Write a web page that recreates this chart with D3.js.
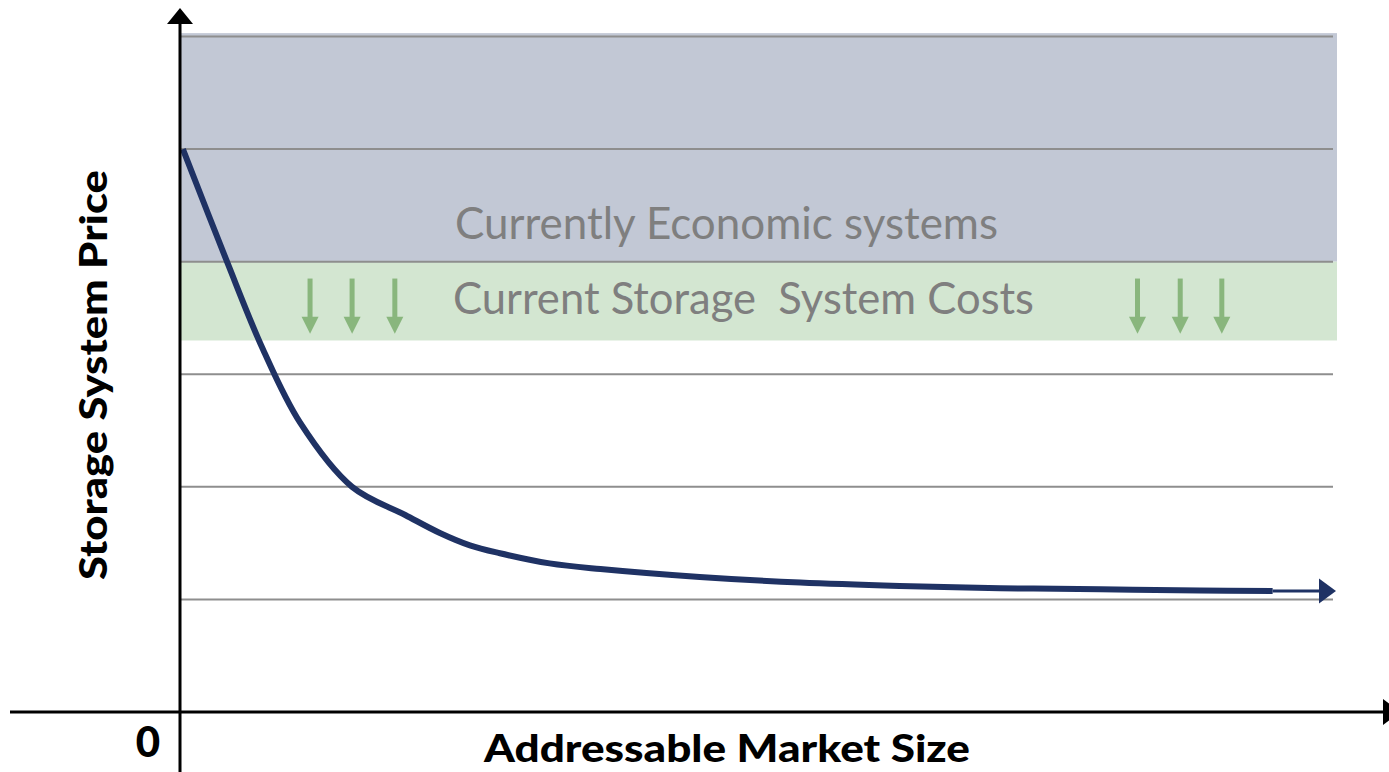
<!DOCTYPE html>
<html>
<head>
<meta charset="utf-8">
<script src="https://cdn.jsdelivr.net/npm/d3@7"></script>
<style>
  html, body { margin: 0; padding: 0; background: #ffffff; }
  svg { display: block; }
</style>
</head>
<body>
<svg id="chart" width="1389" height="772"></svg>
<script>
// Price curve: addressable market size (x, 0-100) vs storage system price (y)
const curveX = [0.25, 4.07, 7.19, 10.4, 14.9, 19.5, 22.5, 25.1, 27.7, 32.0, 36.4, 45.0, 53.7, 62.3, 71.0, 79.7, 88.3, 94.6];
const curveY = [5.0, 4.0, 3.22, 2.57, 2.0, 1.75, 1.59, 1.48, 1.41, 1.32, 1.27, 1.20, 1.15, 1.12, 1.10, 1.09, 1.08, 1.075];
// Tail of the curve continuing to the arrow tip
const tailX = [94.6, 100];
const tailY = [1.075, 1.075];

// Horizontal reference lines
const gridValues = [1, 2, 3, 4, 5, 6];

// Shaded price bands [low, high]
const economicBand = [4, 6.03];
const costBand = [3.3, 4];

// Downward arrows inside the cost band
const arrowX = [11.26, 14.9, 18.6, 82.9, 86.6, 90.2];
const arrowFrom = 3.85;
const arrowTo = 3.36;

// Labels
const economicLabel = "Currently Economic systems";
const costLabel = "Current Storage  System Costs";
const yTitle = "Storage System Price";
const xTitle = "Addressable Market Size";
const originLabel = "0";

const svg = d3.select("#chart");
const x = d3.scaleLinear().domain([0, 100]).range([180, 1335]);
const y = d3.scaleLinear().domain([0, 6]).range([712, 36.5]);

const bandRight = 1337;

// Bands
svg.append("rect")
  .attr("x", x(0)).attr("y", y(economicBand[1]))
  .attr("width", bandRight - x(0)).attr("height", y(economicBand[0]) - y(economicBand[1]))
  .attr("fill", "#c2c8d5");
svg.append("rect")
  .attr("x", x(0)).attr("y", y(costBand[1]))
  .attr("width", bandRight - x(0)).attr("height", y(costBand[0]) - y(costBand[1]))
  .attr("fill", "#d3e6d1");

// Grid lines
svg.append("g").selectAll("line").data(gridValues).join("line")
  .attr("x1", x(0)).attr("x2", 1333)
  .attr("y1", d => y(d)).attr("y2", d => y(d))
  .attr("stroke", "#8e8e8e").attr("stroke-width", 2);

// Band labels
const labelFont = "Lato, 'Open Sans', sans-serif";
svg.append("text")
  .attr("x", 455).attr("y", 239)
  .attr("font-family", labelFont).attr("font-size", 44)
  .attr("fill", "#7f7f7f")
  .attr("textLength", 543).attr("lengthAdjust", "spacingAndGlyphs")
  .style("white-space", "pre")
  .text(economicLabel);
svg.append("text")
  .attr("x", 453).attr("y", 314)
  .attr("font-family", labelFont).attr("font-size", 44)
  .attr("fill", "#7f7f7f")
  .attr("textLength", 581).attr("lengthAdjust", "spacingAndGlyphs")
  .style("white-space", "pre")
  .text(costLabel);

// Down arrows
const arrowG = svg.append("g").attr("opacity", 0.62);
const headH = 17, headW = 17;
arrowX.forEach(ax => {
  const cx = x(ax), y0 = y(arrowFrom), y1 = y(arrowTo);
  arrowG.append("line")
    .attr("x1", cx).attr("x2", cx)
    .attr("y1", y0).attr("y2", y1 - headH + 3)
    .attr("stroke", "#5c9a4b").attr("stroke-width", 5);
  arrowG.append("path")
    .attr("d", `M${cx - headW / 2},${y1 - headH} L${cx + headW / 2},${y1 - headH} L${cx},${y1} Z`)
    .attr("fill", "#5c9a4b");
});

// Price curve
const curveData = curveX.map((d, i) => [d, curveY[i]]);
const line = d3.line().x(d => x(d[0])).y(d => y(d[1])).curve(d3.curveCatmullRom.alpha(0.5));
svg.append("path")
  .attr("d", line(curveData))
  .attr("fill", "none").attr("stroke", "#1f3264")
  .attr("stroke-width", 6).attr("stroke-linejoin", "round");

// Tail and arrowhead
const tailData = tailX.map((d, i) => [d, tailY[i]]);
const tipX = x(tailData[1][0]), tipY = y(tailData[1][1]);
svg.append("line")
  .attr("x1", x(tailData[0][0])).attr("x2", tipX - 14)
  .attr("y1", y(tailData[0][1])).attr("y2", tipY)
  .attr("stroke", "#1f3264").attr("stroke-width", 3);
svg.append("path")
  .attr("d", `M${tipX - 16},${tipY - 12.5} L${tipX + 1},${tipY} L${tipX - 16},${tipY + 12.5} Z`)
  .attr("fill", "#1f3264");

// Axes
const axisX0 = x(0), axisY0 = y(0);
svg.append("line")
  .attr("x1", axisX0).attr("x2", axisX0)
  .attr("y1", 772).attr("y2", 22)
  .attr("stroke", "#000").attr("stroke-width", 3);
svg.append("path")
  .attr("d", `M${axisX0 - 13},${24} L${axisX0},${8} L${axisX0 + 13},${24} Z`)
  .attr("fill", "#000");
svg.append("line")
  .attr("x1", 10).attr("x2", 1386)
  .attr("y1", axisY0).attr("y2", axisY0)
  .attr("stroke", "#000").attr("stroke-width", 3);
svg.append("path")
  .attr("d", `M${1383},${axisY0 - 13} L${1400},${axisY0} L${1383},${axisY0 + 13} Z`)
  .attr("fill", "#000");

// Titles
const titleFont = "Lato, 'Open Sans', sans-serif";
svg.append("text")
  .attr("transform", `translate(107,375) rotate(-90)`)
  .attr("text-anchor", "middle")
  .attr("font-family", titleFont).attr("font-weight", 900).attr("font-size", 38)
  .attr("fill", "#000")
  .attr("textLength", 410).attr("lengthAdjust", "spacingAndGlyphs")
  .text(yTitle);
svg.append("text")
  .attr("x", 727).attr("y", 762)
  .attr("text-anchor", "middle")
  .attr("font-family", titleFont).attr("font-weight", 900).attr("font-size", 38)
  .attr("fill", "#000")
  .attr("textLength", 486).attr("lengthAdjust", "spacingAndGlyphs")
  .text(xTitle);
svg.append("text")
  .attr("x", 148).attr("y", 757)
  .attr("text-anchor", "middle")
  .attr("font-family", titleFont).attr("font-weight", 900).attr("font-size", 42)
  .attr("fill", "#000")
  .text(originLabel);
</script>
</body>
</html>
